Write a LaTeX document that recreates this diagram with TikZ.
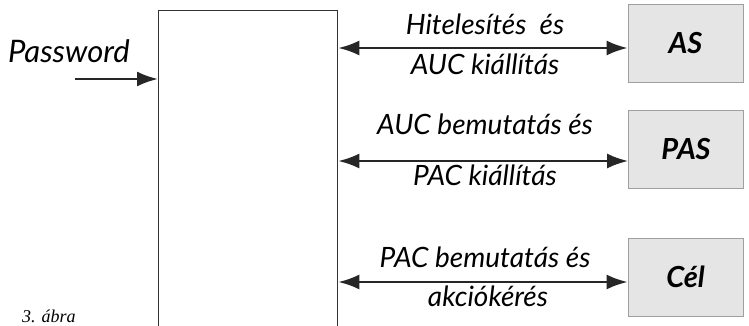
\documentclass[tikz,border=0pt]{standalone}
\usepackage{fontspec}
\newfontfamily\lblfont{Lato}
\newfontfamily\capfont{Liberation Serif}
\usetikzlibrary{arrows.meta}
\begin{document}
\begin{tikzpicture}[x=1pt,y=-1pt]
	\tikzstyle{srv}=[draw=gray!75,fill=gray!20,line width=0.8pt,minimum width=115pt,minimum height=78pt,font=\lblfont\bfseries\itshape\fontsize{29}{31}\selectfont]
	\tikzstyle{lbl}=[anchor=base,inner sep=0pt,font=\lblfont\itshape\fontsize{28}{30}\selectfont]
	\tikzstyle{arr}=[line width=2.4pt,black!85,{Latex[length=21pt,width=15pt]}-{Latex[length=21pt,width=15pt]}]
	\tikzstyle{arrin}=[line width=2.4pt,black!85,-{Latex[length=21pt,width=15pt]}]
	\clip (0,0) rectangle (749,326);
	\fill[white] (0,0) rectangle (749,326);
	
	\node[draw=black!80,line width=1.3pt,minimum width=179pt,minimum height=340pt,anchor=north west] (kliens) at (158,10) {};
	
	\node[srv] (as)  at (685.5,43.5) {AS};
	\node[srv] (pas) at (686,149)    {PAS};
	\node[srv] (cel) at (685.5,277)  {Cél};
	
	\node[lbl,anchor=base west,font=\lblfont\itshape\fontsize{31}{33}\selectfont] (pw) at (8,63) {Password};
	\coordinate (pw0) at (75,79);
	
	\coordinate (k1) at (kliens.east |- 0,48);
	\coordinate (k2) at (kliens.east |- 0,161);
	\coordinate (k3) at (kliens.east |- 0,282);
	
	\node[lbl] (l1a) at (485,35)  {Hitelesítés\ \ és};
	\node[lbl] (l1b) at (485,75)  {AUC kiállítás};
	\node[lbl] (l2a) at (485,135) {AUC bemutatás és};
	\node[lbl] (l2b) at (485,185) {PAC kiállítás};
	\node[lbl] (l3a) at (485,267) {PAC bemutatás és};
	\node[lbl] (l3b) at (488,306) {akciókérés};
	
	\node[anchor=base west,inner sep=0pt,font=\capfont\itshape\fontsize{18}{20}\selectfont] (abra) at (22,322) {3. ábra};
	
	\path[arr]
	(k1) edge (as.west |- k1)
	(k2) edge (pas.west |- k2)
	(k3) edge (cel.west |- k3)
	;
	\draw[arrin] (pw0) -- (kliens.west |- pw0);
\end{tikzpicture}
\end{document}
